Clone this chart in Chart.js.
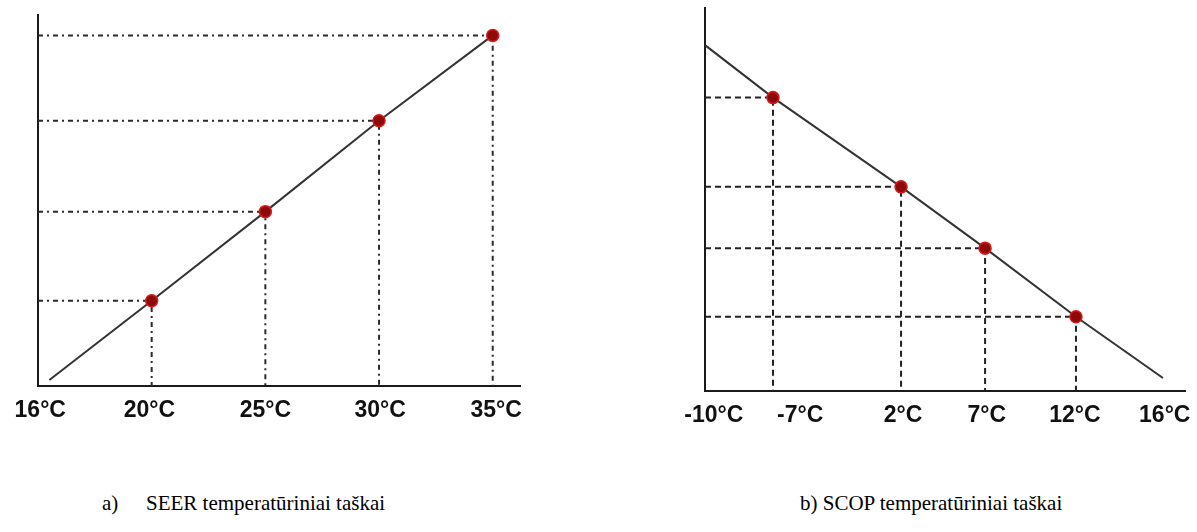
<!DOCTYPE html>
<html>
<head>
<meta charset="utf-8">
<script src="https://cdn.jsdelivr.net/npm/chart.js@4.4.1/dist/chart.umd.min.js"></script>
<style>
  html, body { margin: 0; padding: 0; background: #ffffff; }
  #wrap { position: relative; width: 1197px; height: 532px; overflow: hidden; background: #fff; }
  .cv { position: absolute; top: 0; }
  #c1 { left: 0; width: 600px; height: 460px; }
  #c2 { left: 600px; width: 597px; height: 460px; }
  .cap { position: absolute; font-family: "Liberation Serif", "Times New Roman", serif; font-size: 21px; color: #000; white-space: pre; line-height: 1; }
</style>
</head>
<body>
<div id="wrap">
  <canvas id="c1" class="cv" width="600" height="460"></canvas>
  <canvas id="c2" class="cv" width="597" height="460"></canvas>
  <div class="cap" style="left:102px; top:493px;">a)</div>
  <div class="cap" style="left:146px; top:493px;">SEER temperatūriniai taškai</div>
  <div class="cap" style="left:800px; top:493px;">b) SCOP temperatūriniai taškai</div>
</div>
<script>
// ---------- Data ----------
// a) SEER: temperature categories, their drawn position along the axis (evenly spaced slots)
const seerLabels = ['16°C', '20°C', '25°C', '30°C', '35°C'];
const seerAxisPos = [0, 1, 2, 3, 4];
const seerLabelPos = [0.02, 0.98, 2.0, 3.01, 4.03];
// relative value (0–100 of plot height) of the rising line at each point
const seerLineStartPos = 0.1;
const seerLineStartVal = 1.6;
const seerValues = [null, 23, 47, 71.5, 94.5];   // 16°C has no marked point

// b) SCOP: temperature categories and their drawn position along the (non-uniform) axis
const scopLabels = ['-10°C', '-7°C', '2°C', '7°C', '12°C', '16°C'];
const scopAxisPos = [-10, -6.14, 1.13, 5.9, 11.06, 16];
const scopLabelPos = [-9.5, -4.6, 1.24, 6.0, 11.0, 16.1];
// relative value (0–100 of plot height) of the falling line
const scopValues = [90.3, 76.6, 53.3, 37.3, 19.4, 3.4];  // -10 and 16 are line ends, no marker
const scopMarked = [false, true, true, true, true, false];

// ---------- helpers ----------
const tickFont = { family: '"Liberation Sans", Arial, sans-serif', size: 23, weight: 'bold' };

function guideSets(xMin, pts, dash, color) {
  const sets = [];
  pts.forEach(p => {
    sets.push({
      data: [{x: xMin, y: p.y}, {x: p.x, y: p.y}, {x: p.x, y: 0}],
      borderColor: color, borderWidth: 2, borderDash: dash,
      pointRadius: 0, showLine: true, fill: false, tension: 0
    });
  });
  return sets;
}

function makeChart(canvasId, cfg) {
  return new Chart(document.getElementById(canvasId), {
    type: 'scatter',
    data: { datasets: cfg.datasets },
    options: {
      responsive: false,
      animation: false,
      events: [],
      layout: { padding: cfg.padding },
      plugins: { legend: { display: false }, tooltip: { enabled: false }, title: { display: false } },
      scales: {
        x: {
          type: 'linear', min: cfg.xMin, max: cfg.xMax,
          grid: { display: false },
          border: { display: true, color: '#1a1a1a', width: 2 },
          afterBuildTicks: (axis) => { axis.ticks = cfg.tickPos.map(v => ({ value: v })); },
          afterFit: (s) => { s.height = cfg.xAxisHeight; },
          ticks: {
            autoSkip: false, maxRotation: 0, padding: cfg.tickPadding,
            color: '#111', font: tickFont,
            callback: (v, i) => cfg.tickLabels[i]
          }
        },
        y: {
          type: 'linear', min: 0, max: 100,
          grid: { display: false },
          border: { display: true, color: '#1a1a1a', width: 2 },
          ticks: { display: false },
          afterFit: (s) => { s.width = 0; }
        }
      }
    }
  });
}

// ---------- a) SEER ----------
const seerPts = [];
seerValues.forEach((v, i) => { if (v !== null) seerPts.push({ x: seerAxisPos[i], y: v }); });
const seerLine = [{ x: seerLineStartPos, y: seerLineStartVal }].concat(seerPts);

makeChart('c1', {
  padding: { left: 38, top: 15, right: 80, bottom: 24 },
  xMin: 0, xMax: 4.24,
  xAxisHeight: 50, tickPadding: 3,
  tickPos: seerLabelPos, tickLabels: seerLabels,
  datasets: [
    {
      data: seerLine, showLine: true, tension: 0,
      borderColor: '#333', borderWidth: 2,
      pointRadius: seerLine.map((p, i) => i === 0 ? 0 : 6),
      pointBackgroundColor: '#8e0a0a', pointBorderColor: '#d81a1a', pointBorderWidth: 1.5
    }
  ].concat(guideSets(0, seerPts, [5, 4, 2, 4], '#2a2a2a'))
});

// ---------- b) SCOP ----------
const scopLine = scopValues.map((v, i) => ({ x: scopAxisPos[i], y: v }));
const scopPts = scopLine.filter((p, i) => scopMarked[i]);

makeChart('c2', {
  padding: { left: 105, top: 8, right: 12, bottom: 19 },
  xMin: -10, xMax: 17.25,
  xAxisHeight: 50, tickPadding: 3,
  tickPos: scopLabelPos, tickLabels: scopLabels,
  datasets: [
    {
      data: scopLine, showLine: true, tension: 0,
      borderColor: '#333', borderWidth: 2,
      pointRadius: scopMarked.map(m => m ? 6 : 0),
      pointBackgroundColor: '#8e0a0a', pointBorderColor: '#d81a1a', pointBorderWidth: 1.5
    }
  ].concat(guideSets(-10, scopPts, [6, 4], '#222'))
});
</script>
</body>
</html>
